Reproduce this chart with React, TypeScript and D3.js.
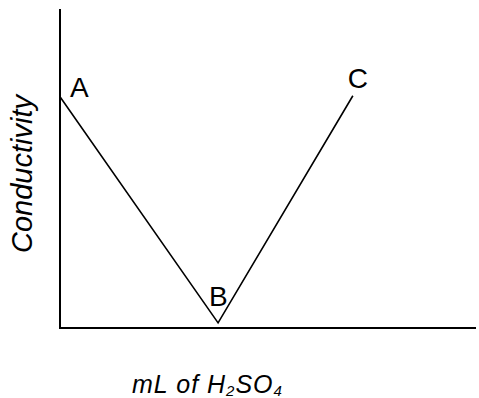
import React, { useEffect, useRef } from 'react';
import * as d3 from 'd3';

// titration curve (mL of acid vs conductivity, arbitrary units)
const volumes = [0, 9.5, 17.6];
const conductivity = [7.25, 0.16, 7.28];
const pointLabels = ['A', 'B', 'C'];
// label nudges relative to the point, in px
const labelDx = [10, -9, -5];
const labelDy = [0, -17, -8];

const width = 479;
const height = 398;
const margin = { top: 9, right: 3, bottom: 70, left: 60 };

export default function App() {
	const ref = useRef<SVGSVGElement>(null);

	useEffect(() => {
		const svg = d3.select(ref.current);
		svg.selectAll('*').remove();

		const x = d3
			.scaleLinear()
			.domain([0, 25])
			.range([margin.left, width - margin.right]);
		const y = d3
			.scaleLinear()
			.domain([0, 10])
			.range([height - margin.bottom, margin.top]);

		const font = '"Liberation Sans", Arial, Helvetica, sans-serif';

		// axes as plain lines, no ticks
		svg
			.append('line')
			.attr('x1', x(0))
			.attr('x2', x(0))
			.attr('y1', y(10))
			.attr('y2', y(0) + 1)
			.attr('stroke', '#000')
			.attr('stroke-width', 2);
		svg
			.append('line')
			.attr('x1', x(0))
			.attr('x2', x(25))
			.attr('y1', y(0))
			.attr('y2', y(0))
			.attr('stroke', '#000')
			.attr('stroke-width', 2);

		const pts = volumes.map((v, i) => ({ v, c: conductivity[i], label: pointLabels[i], i }));

		const line = d3
			.line<{ v: number; c: number }>()
			.x(d => x(d.v))
			.y(d => y(d.c));

		svg
			.append('path')
			.attr('d', line(pts))
			.attr('fill', 'none')
			.attr('stroke', '#000')
			.attr('stroke-width', 1.6);

		svg
			.selectAll('text.pt')
			.data(pts)
			.enter()
			.append('text')
			.attr('class', 'pt')
			.attr('x', d => x(d.v) + labelDx[d.i])
			.attr('y', d => y(d.c) + labelDy[d.i])
			.attr('font-family', font)
			.attr('font-size', 28)
			.attr('fill', '#000')
			.text(d => d.label);

		// y axis title
		svg
			.append('text')
			.attr('transform', `translate(32,${174}) rotate(-90)`)
			.attr('text-anchor', 'middle')
			.attr('font-family', font)
			.attr('font-style', 'italic')
			.attr('font-size', 29)
			.attr('fill', '#000')
			.text('Conductivity');

		// x axis title with subscripts
		const xt = svg
			.append('text')
			.attr('x', 132)
			.attr('y', 393)
			.attr('font-family', font)
			.attr('font-style', 'italic')
			.attr('font-size', 25)
			.attr('letter-spacing', 1)
			.attr('fill', '#000');
		xt.append('tspan').text('mL of H');
		xt.append('tspan').attr('font-size', 15).attr('dy', 3).text('2');
		xt.append('tspan').attr('dy', -3).text('SO');
		xt.append('tspan').attr('font-size', 15).attr('dy', 3).text('4');
	}, []);

	return (
		<svg
			ref={ref}
			width={width}
			height={height}
			style={{ position: 'absolute', left: 0, top: 0, background: '#fff' }}
		/>
	);
}
